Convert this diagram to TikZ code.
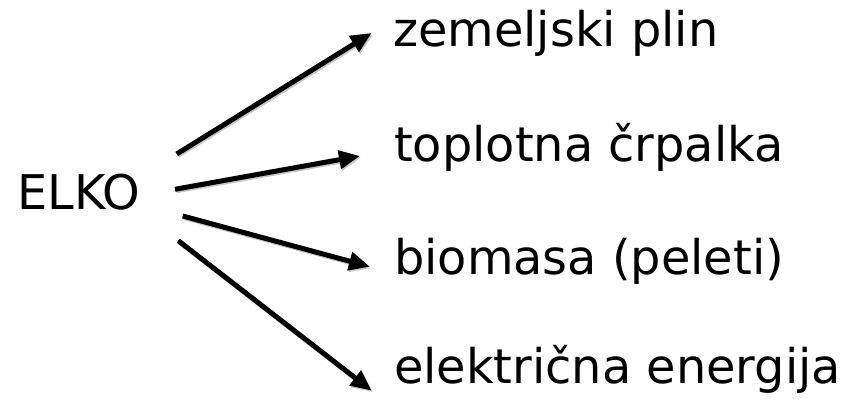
\documentclass[tikz,border=0pt]{standalone}
\usepackage{fontspec}
\setmainfont{DejaVu Sans}
\usetikzlibrary{arrows.meta}
\begin{document}
\begin{tikzpicture}[x=1pt,y=1pt,
  lbl/.style={anchor=base west,inner sep=0pt,font=\fontsize{47.8}{52}\selectfont},
  arr/.style={line width=5pt,-{Triangle[length=21pt,width=18pt]}},
  shadow/.style={line width=5pt,draw=black!22,-{Triangle[length=21pt,width=18pt]}}]
\useasboundingbox (0,0) rectangle (844,402);
\node[lbl] (elko) at (17,192) {ELKO};
\node[lbl] (t1) at (393,355) {zemeljski plin};
\node[lbl] (t2) at (394,240) {toplotna črpalka};
\node[lbl] (t3) at (394,127) {biomasa (peleti)};
\node[lbl] (t4) at (394,19) {električna energija};
\coordinate (s1) at (176.7,248);
\coordinate (e1) at (371.7,369);
\coordinate (s2) at (175,212.7);
\coordinate (e2) at (360,246);
\coordinate (s3) at (182.7,186);
\coordinate (e3) at (370,135.3);
\coordinate (s4) at (178.3,161.3);
\coordinate (e4) at (371.7,11.3);
\foreach \i in {1,2,3,4}{
  \draw[shadow] ([shift={(1.2,-1.5)}]s\i) -- ([shift={(1.2,-1.5)}]e\i);
  \draw[arr] (s\i) -- (e\i);
}
\end{tikzpicture}
\end{document}
